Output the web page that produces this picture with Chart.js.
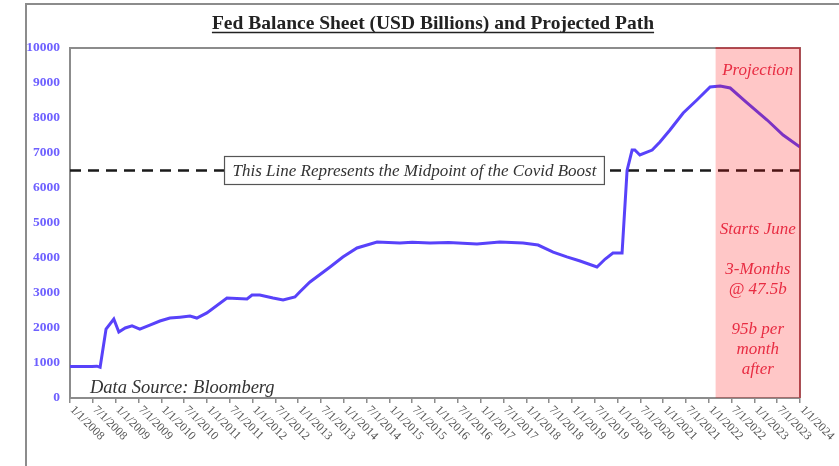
<!DOCTYPE html>
<html>
<head>
<meta charset="utf-8">
<script src="https://cdn.jsdelivr.net/npm/chart.js@4.4.1/dist/chart.umd.min.js"></script>
<style>
  html, body { margin: 0; padding: 0; background: #fff; }
  #wrap { position: relative; width: 839px; height: 466px; overflow: hidden; }
  #frame {
    position: absolute; left: 25px; top: 3px; width: 830px; height: 480px;
    border-top: 2px solid #8c8c8c; border-left: 2px solid #8c8c8c;
  }
  #myChart { position: absolute; left: 0; top: 0; }
</style>
</head>
<body>
<div id="wrap">
  <div id="frame"></div>
  <canvas id="myChart" width="839" height="466"></canvas>
</div>
<script>
// balance sheet, USD billions (decimal years)
const dates = [
  2008.0, 2008.48, 2008.59, 2008.66, 2008.79, 2008.96, 2009.07, 2009.21, 2009.36, 2009.53,
  2009.75, 2009.97, 2010.19, 2010.41, 2010.63, 2010.78, 2011.0, 2011.44, 2011.88, 2011.99,
  2012.16, 2012.45, 2012.67, 2012.93, 2013.04, 2013.26, 2013.7, 2013.98, 2014.29, 2014.73,
  2015.23, 2015.5, 2015.89, 2016.3, 2016.92, 2017.42, 2017.93, 2018.26, 2018.59, 2018.89,
  2019.18, 2019.55, 2019.73, 2019.9, 2020.1, 2020.21, 2020.32, 2020.38, 2020.49, 2020.76,
  2020.93, 2021.15, 2021.44, 2021.74, 2022.03, 2022.25, 2022.47, 2022.84, 2023.28, 2023.63,
  2024.0
]
const balance = [
  900, 900, 910, 880, 1970, 2257, 1886, 2000, 2060, 1970,
  2085, 2200, 2285, 2310, 2340, 2285, 2430, 2857, 2830, 2943,
  2943, 2857, 2800, 2886, 3037, 3314, 3743, 4028, 4286, 4457,
  4430, 4450, 4430, 4440, 4400, 4457, 4430, 4370, 4170, 4030,
  3914, 3743, 3971, 4143, 4143, 6500, 7085, 7085, 6943, 7085,
  7314, 7657, 8143, 8514, 8886, 8914, 8857, 8430, 7943, 7514,
  7171
]
const tickLabels = [
  '1/1/2008', '7/1/2008', '1/1/2009', '7/1/2009', '1/1/2010', '7/1/2010', '1/1/2011', '7/1/2011',
  '1/1/2012', '7/1/2012', '1/1/2013', '7/1/2013', '1/1/2014', '7/1/2014', '1/1/2015', '7/1/2015',
  '1/1/2016', '7/1/2016', '1/1/2017', '7/1/2017', '1/1/2018', '7/1/2018', '1/1/2019', '7/1/2019',
  '1/1/2020', '7/1/2020', '1/1/2021', '7/1/2021', '1/1/2022', '7/1/2022', '1/1/2023', '7/1/2023',
  '1/1/2024'
]
const midpoint = 6500
const projectionStart = 2022.15
const projectionEnd = 2024
const projectionNotes = ['Starts June', '', '3-Months', '@ 47.5b', '', '95b per', 'month', 'after']
const title = 'Fed Balance Sheet (USD Billions) and Projected Path'
const midpointNote = 'This Line Represents the Midpoint of the Covid Boost'
const sourceNote = 'Data Source: Bloomberg'

const serif = '"Liberation Serif", "DejaVu Serif", serif'
const noteRed = 'rgb(232, 44, 66)'

let data = {
  datasets: [
    {
      label: 'Balance sheet',
      data: dates.map((d, i) => ({ x: d, y: balance[i] })),
      borderColor: 'rgb(88, 66, 250)',
      borderWidth: 3,
      pointRadius: 0,
      tension: 0,
      fill: false,
    },
    {
      label: 'Midpoint',
      data: [{ x: dates[0], y: midpoint }, { x: projectionEnd, y: midpoint }],
      borderColor: '#1a1a1a',
      borderWidth: 2.5,
      borderDash: [11, 7],
      pointRadius: 0,
      fill: false,
    },
  ],
}

// title, plot frame, notes and the shaded projection window
const decorations = {
  id: 'decorations',
  beforeDatasetsDraw(chart) {
    const { ctx, chartArea: a } = chart
    ctx.save()
    ctx.strokeStyle = '#8c8c8c'
    ctx.lineWidth = 2
    ctx.beginPath()
    ctx.moveTo(a.left, a.top)
    ctx.lineTo(a.right, a.top)
    ctx.lineTo(a.right, a.bottom)
    ctx.stroke()
    ctx.restore()
  },
  afterDatasetsDraw(chart) {
    const { ctx, chartArea: a, scales: { x, y } } = chart
    ctx.save()

    // midpoint note box
    ctx.font = 'italic 17px ' + serif
    const tw = ctx.measureText(midpointNote).width
    const cx = x.getPixelForValue(2015.55)
    const cy = y.getPixelForValue(midpoint)
    ctx.fillStyle = '#fff'
    ctx.fillRect(cx - tw / 2 - 8, cy - 14, tw + 16, 28)
    ctx.strokeStyle = '#555'
    ctx.lineWidth = 1.2
    ctx.strokeRect(cx - tw / 2 - 8, cy - 14, tw + 16, 28)
    ctx.fillStyle = '#333'
    ctx.textAlign = 'center'
    ctx.textBaseline = 'middle'
    ctx.fillText(midpointNote, cx, cy + 1)

    // source
    ctx.font = 'italic 18.5px ' + serif
    ctx.textAlign = 'left'
    ctx.textBaseline = 'alphabetic'
    ctx.fillText(sourceNote, a.left + 20, a.bottom - 5)

    // projection window
    const px0 = x.getPixelForValue(projectionStart)
    const px1 = x.getPixelForValue(projectionEnd)
    ctx.fillStyle = 'rgba(255, 0, 0, 0.22)'
    ctx.fillRect(px0, a.top, px1 - px0, a.bottom - a.top)
    ctx.strokeStyle = 'rgba(190, 40, 50, 0.8)'
    ctx.lineWidth = 1.5
    ctx.beginPath()
    ctx.moveTo(px0, a.top)
    ctx.lineTo(px1, a.top)
    ctx.lineTo(px1, a.bottom)
    ctx.stroke()

    const mx = (px0 + px1) / 2
    ctx.fillStyle = noteRed
    ctx.textAlign = 'center'
    ctx.textBaseline = 'middle'
    ctx.font = 'italic 17px ' + serif
    ctx.fillText('Projection', mx, a.top + 23)
    ctx.font = 'italic 17px ' + serif
    projectionNotes.forEach((t, i) => {
      if (t) ctx.fillText(t, mx, a.top + 182 + i * 20)
    })
    ctx.restore()
  },
  afterDraw(chart) {
    const { ctx, scales: { x } } = chart
    ctx.save()

    // rotated date labels running down to the right
    ctx.font = '12px ' + serif
    ctx.fillStyle = '#555'
    ctx.textAlign = 'left'
    ctx.textBaseline = 'middle'
    x.ticks.forEach((t, i) => {
      const px = x.getPixelForValue(t.value)
      ctx.save()
      ctx.translate(px + 2, x.top + 10)
      ctx.rotate(Math.PI / 4)
      ctx.fillText(tickLabels[i] || '', 0, 0)
      ctx.restore()
    })

    // underlined title
    ctx.font = 'bold 19.5px ' + serif
    ctx.fillStyle = '#222'
    ctx.textAlign = 'center'
    ctx.textBaseline = 'alphabetic'
    const tx = (chart.width + 27) / 2
    ctx.fillText(title, tx, 29)
    const w = ctx.measureText(title).width
    ctx.strokeStyle = '#222'
    ctx.lineWidth = 1.4
    ctx.beginPath()
    ctx.moveTo(tx - w / 2, 32.5)
    ctx.lineTo(tx + w / 2, 32.5)
    ctx.stroke()
    ctx.restore()
  },
}

let config = {
  type: 'line',
  data: data,
  plugins: [decorations],
  options: {
    responsive: false,
    animation: false,
    layout: {
      padding: { top: 48, right: 39, left: 0, bottom: 0 },
    },
    scales: {
      x: {
        type: 'linear',
        min: 2008,
        max: 2024,
        ticks: { stepSize: 0.5, display: false },
        grid: {
          display: true,
          drawOnChartArea: false,
          drawTicks: true,
          tickLength: 5,
          color: '#8c8c8c',
          lineWidth: 1.5,
        },
        border: { display: true, color: '#8c8c8c', width: 2 },
        afterFit: (scale) => { scale.height = 68 },
      },
      y: {
        min: 0,
        max: 10000,
        ticks: {
          stepSize: 1000,
          padding: 10,
          color: 'rgb(110, 96, 255)',
          font: { family: serif, size: 13.5, weight: 'bold' },
          callback: (v) => String(v),
        },
        grid: { display: false, drawTicks: false },
        border: { display: true, color: '#8c8c8c', width: 2 },
        afterFit: (scale) => { scale.width = 70 },
      },
    },
    plugins: {
      legend: { display: false },
      title: { display: false },
      tooltip: { enabled: false },
    },
  },
}

let chart = new Chart(document.getElementById('myChart'), config)
</script>
</body>
</html>
